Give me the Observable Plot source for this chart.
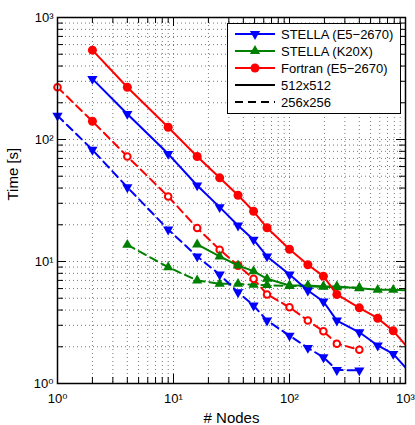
<!DOCTYPE html>
<html><head><meta charset="utf-8">
<script src="https://cdn.jsdelivr.net/npm/d3@7"></script>
<script src="https://cdn.jsdelivr.net/npm/@observablehq/plot@0.6"></script>
<style>
body{margin:0;background:#fff;}
svg{font-family:"Liberation Sans",Arial,"DejaVu Sans",sans-serif;}
</style>
</head><body><div id="chart"></div>
<script>
// ---- data ----
const nodes512 = [2, 4, 9, 16, 25, 36, 49, 64, 100, 144, 196, 256, 400, 576, 784, 1024];
const stellaE5_512 = [314, 162, 76.3, 42, 27.9, 19.7, 15.1, 11.0, 7.82, 5.78, 4.70, 3.28, 2.63, 2.05, 1.75, 1.32];
const fortran_512 = [540, 268, 126, 72.6, 48.5, 34.9, 25.8, 18.9, 12.6, 9.4, 7.58, 5.37, 4.17, 3.43, 2.70, 2.01];
const k20xNodes512 = [16, 25, 36, 49, 64, 100, 144, 196, 256, 400, 576, 784, 1024];
const k20x_512 = [13.8, 11.0, 9.27, 8.33, 7.21, 6.36, 6.36, 6.25, 6.25, 6.04, 5.86, 5.86, 5.79];

const nodes256 = [1, 2, 4, 9, 16, 25, 36, 49, 64, 100, 144, 196, 256, 400];
const stellaE5_256 = [157, 82.3, 40.6, 18.3, 11.0, 7.82, 5.60, 4.36, 3.28, 2.47, 1.96, 1.64, 1.29, 1.28];
const fortran_256 = [268, 141, 72.6, 34.1, 18.8, 12.5, 9.27, 7.21, 5.37, 4.22, 3.28, 2.68, 2.12, 1.89];
const k20xNodes256 = [4, 9, 16, 25, 36, 49, 64, 100, 144, 196, 256, 400];
const k20x_256 = [13.7, 8.98, 6.99, 6.56, 6.56, 6.45, 6.4, 6.3, 6.25, 6.2, 6.15, 6.1];

const majorTicks = [1, 10, 100, 1000];
const seriesLabels = ["STELLA (E5\u22122670)", "STELLA (K20X)", "Fortran (E5\u22122670)"];
const sizeLabels = ["512x512", "256x256"];
const xLabel = "# Nodes";
const yLabel = "Time [s]";

// ---- layout / style ----
const W = 415, H = 425, mL = 57, mR = 10, mT = 17, mB = 42;
const innerW = W - mL - mR, innerH = H - mT - mB;
const BLUE = "#0000ff", GREEN = "#008000", RED = "#ff0000";
const DASH = "8,5";
const X_MAX = 1000;
const minorTicks = [];
for (const d of [1, 10, 100]) for (let k = 2; k <= 9; k++) minorTicks.push(d * k);
const sup = {0: "\u2070", 1: "\u00b9", 2: "\u00b2", 3: "\u00b3"};
const fmt = d => "10" + sup[Math.round(Math.log10(d))];
const filledFortran256 = new Set([2, 36]);

const sqrt3 = Math.sqrt(3);
const triDown = {draw(ctx, size) { const h = Math.sqrt(size / (sqrt3 * 3));
  ctx.moveTo(0, 2 * h); ctx.lineTo(-sqrt3 * h, -h); ctx.lineTo(sqrt3 * h, -h); ctx.closePath(); }};
const triUp = {draw(ctx, size) { const h = Math.sqrt(size / (sqrt3 * 3));
  ctx.moveTo(0, -2 * h); ctx.lineTo(sqrt3 * h, h); ctx.lineTo(-sqrt3 * h, h); ctx.closePath(); }};

const rows = (xs, ys) => xs.map((x, i) => ({x, y: ys[i]}));
const sE5_512 = rows(nodes512, stellaE5_512);
const sF_512 = rows(nodes512, fortran_512);
const sK_512 = rows(k20xNodes512, k20x_512);
const sE5_256 = rows(nodes256, stellaE5_256);
const sF_256 = rows(nodes256, fortran_256);
const sK_256 = rows(k20xNodes256, k20x_256);
// markers outside the axis limits are not drawn (as in the original)
const inside = arr => arr.filter(d => d.x <= X_MAX);

const gridX = [...minorTicks, 10, 100];
const gridY = [...minorTicks, 10, 100];

const plot = Plot.plot({
  width: W, height: H,
  marginLeft: mL, marginRight: mR, marginTop: mT, marginBottom: mB,
  style: {fontFamily: '"Liberation Sans", Arial, "DejaVu Sans", sans-serif', fontSize: "13px", background: "white", color: "black"},
  x: {type: "log", domain: [1, X_MAX]},
  y: {type: "log", domain: [1, 1000]},
  marks: [
    // dotted grid
    Plot.ruleX(gridX, {stroke: "#777", strokeDasharray: "1,3", strokeWidth: 1}),
    Plot.ruleY(gridY, {stroke: "#777", strokeDasharray: "1,3", strokeWidth: 1}),
    // inward ticks, all four sides
    Plot.ruleX(minorTicks, {insetTop: innerH - 6, stroke: "black"}),
    Plot.ruleX(minorTicks, {insetBottom: innerH - 6, stroke: "black"}),
    Plot.ruleX(majorTicks, {insetTop: innerH - 9, stroke: "black"}),
    Plot.ruleX(majorTicks, {insetBottom: innerH - 9, stroke: "black"}),
    Plot.ruleY(minorTicks, {insetRight: innerW - 6, stroke: "black"}),
    Plot.ruleY(minorTicks, {insetLeft: innerW - 6, stroke: "black"}),
    Plot.ruleY(majorTicks, {insetRight: innerW - 9, stroke: "black"}),
    Plot.ruleY(majorTicks, {insetLeft: innerW - 9, stroke: "black"}),
    Plot.axisX(majorTicks, {tickSize: 0, tickPadding: 10, tickFormat: fmt, label: null, fontSize: 13}),
    Plot.axisY(majorTicks, {tickSize: 0, tickPadding: 4, tickFormat: fmt, label: null, fontSize: 13}),
    Plot.text([xLabel], {frameAnchor: "bottom", dy: 35, fontSize: 15, lineAnchor: "middle"}),
    Plot.text([yLabel], {frameAnchor: "left", dx: -44, rotate: -90, fontSize: 15, lineAnchor: "middle"}),
    // 256x256 dashed
    Plot.line(sK_256, {x: "x", y: "y", stroke: GREEN, strokeWidth: 2, strokeDasharray: DASH}),
    Plot.dot(sK_256, {x: "x", y: "y", symbol: triUp, r: 3.8, fill: GREEN}),
    Plot.line(sE5_256, {x: "x", y: "y", stroke: BLUE, strokeWidth: 2, strokeDasharray: DASH}),
    Plot.dot(sE5_256, {x: "x", y: "y", symbol: triDown, r: 3.8, fill: BLUE}),
    Plot.line(sF_256, {x: "x", y: "y", stroke: RED, strokeWidth: 2, strokeDasharray: DASH}),
    Plot.dot(sF_256.filter(d => !filledFortran256.has(d.x)), {x: "x", y: "y", r: 3.3, fill: "white", stroke: RED, strokeWidth: 2}),
    Plot.dot(sF_256.filter(d => filledFortran256.has(d.x)), {x: "x", y: "y", r: 4.5, fill: RED}),
    // 512x512 solid
    Plot.line(sK_512, {x: "x", y: "y", stroke: GREEN, strokeWidth: 2, clip: true}),
    Plot.dot(inside(sK_512), {x: "x", y: "y", symbol: triUp, r: 3.8, fill: GREEN}),
    Plot.line(sE5_512, {x: "x", y: "y", stroke: BLUE, strokeWidth: 2, clip: true}),
    Plot.dot(inside(sE5_512), {x: "x", y: "y", symbol: triDown, r: 3.8, fill: BLUE}),
    Plot.line(sF_512, {x: "x", y: "y", stroke: RED, strokeWidth: 2, clip: true}),
    Plot.dot(inside(sF_512), {x: "x", y: "y", r: 4.5, fill: RED}),
    Plot.frame({stroke: "black", strokeWidth: 1.5})
  ]
});
document.getElementById("chart").appendChild(plot);

// ---- legend (inside the axes, top right) ----
const lg = d3.select(plot).append("g").attr("text-anchor", "start");
const lx = 227.5, ly = 23.5, lw = 173, lh = 90, rowH = 17;
lg.append("rect")
  .attr("x", lx).attr("y", ly).attr("width", lw).attr("height", lh)
  .style("fill", "white").style("stroke", "black").style("stroke-width", "1px");
const entries = [
  {label: seriesLabels[0], color: BLUE, sym: triDown, r: 3.8},
  {label: seriesLabels[1], color: GREEN, sym: triUp, r: 3.8},
  {label: seriesLabels[2], color: RED, sym: d3.symbolCircle, r: 4.5},
  {label: sizeLabels[0], color: "black"},
  {label: sizeLabels[1], color: "black", dash: DASH}
];
entries.forEach((e, i) => {
  const cy = ly + 10.5 + i * rowH;
  lg.append("line").attr("x1", 235).attr("x2", 275).attr("y1", cy).attr("y2", cy)
    .style("stroke", e.color).style("stroke-width", "2px").style("stroke-dasharray", e.dash || "none");
  if (e.sym) lg.append("path").attr("d", d3.symbol(e.sym, Math.PI * e.r * e.r)())
    .attr("transform", `translate(255,${cy})`).style("fill", e.color).style("stroke", "none");
  lg.append("text").attr("x", 281).attr("y", cy).attr("dy", "0.35em")
    .style("font-size", "13px").style("fill", "black").style("text-anchor", "start").text(e.label);
});
</script>
</body></html>
